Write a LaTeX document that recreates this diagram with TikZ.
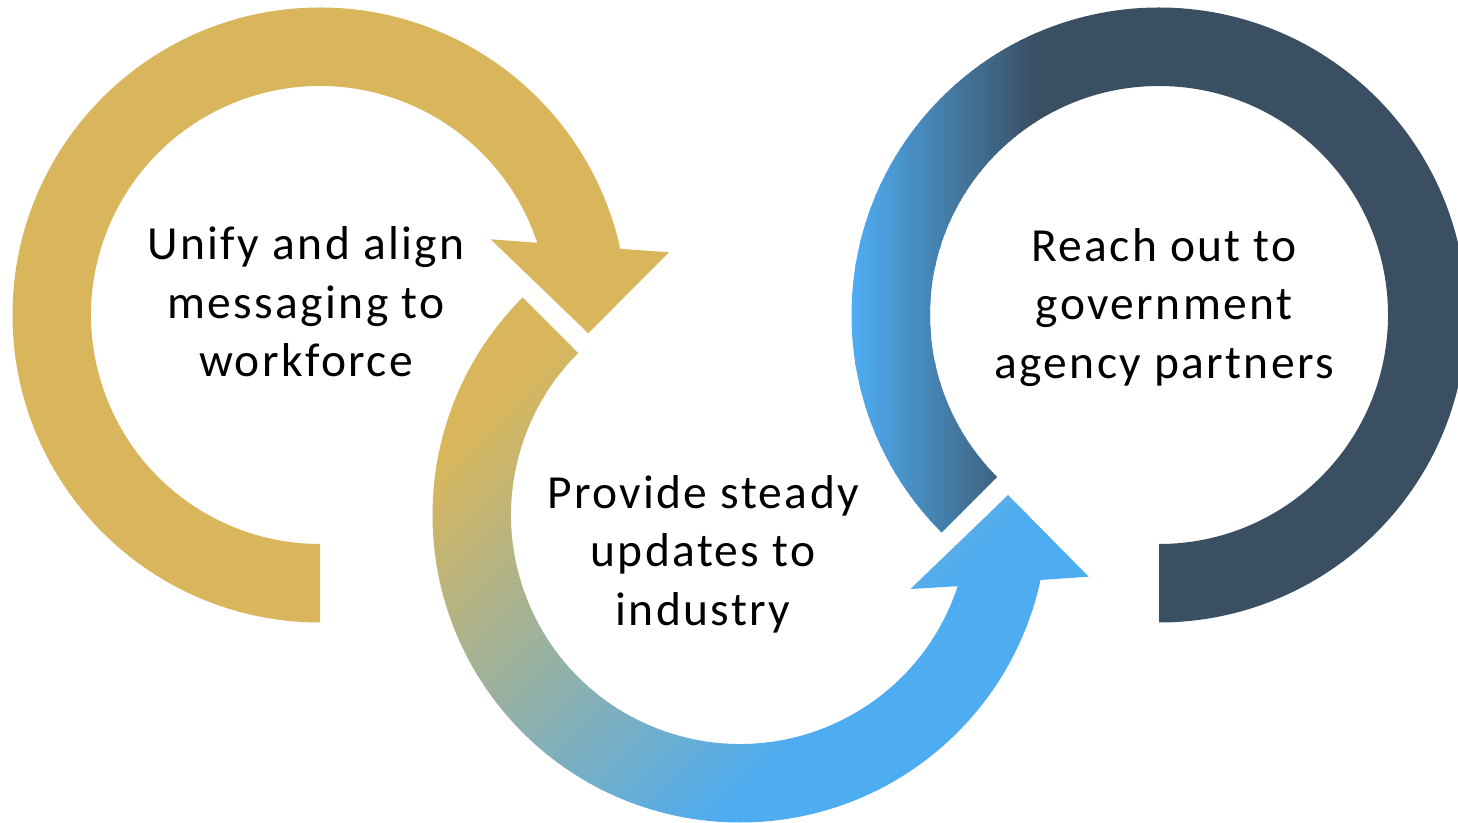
\documentclass[tikz,border=0pt]{standalone}
\usepackage{fontspec}
\setmainfont{Carlito}[LetterSpace=5]
\usetikzlibrary{calc}
\definecolor{goldC}{HTML}{D9B65C}
\definecolor{blueC}{HTML}{4EACF1}
\definecolor{navyC}{HTML}{3B4F63}
\begin{document}
\begin{tikzpicture}[x=1pt,y=1pt,
  lbl/.style={font=\fontsize{47.5}{58.7}\selectfont, align=center, inner sep=0pt, anchor=base, text=black}]
\useasboundingbox (0,0) rectangle (1458,822);
\def\ro{307.5}
\def\ri{229}
\coordinate (c1) at (320,507);
\coordinate (c2) at (740,307);
\coordinate (c3) at (1159,507);

% arc 1 (gold)
\fill[goldC] ($(c1)+(270:\ro)$) arc[start angle=270, end angle=12.43, radius=\ro]
  -- (669,569.7) -- (588.3,488.7) -- (490.7,582.7)
  -- ($(c1)+(18.37:\ri)$) arc[start angle=18.37, end angle=270, radius=\ri] -- cycle;

% arc 2 (gold -> blue)
\begin{scope}
\clip ($(c2)+(135:\ro)$) arc[start angle=135, end angle=347.8, radius=\ro]
  -- (1088.7,245.3) -- (1008,327) -- (910.7,233)
  -- ($(c2)+(341.9:\ri)$) arc[start angle=341.9, end angle=135, radius=\ri] -- cycle;
\fill[goldC] (-872,-50) -- (78,900) -- (979,900) -- (29,-50) -- cycle;
\fill[blueC] (668,-50) -- (1618,900) -- (2700,900) -- (2700,-50) -- cycle;
\foreach \i in {0,...,63} {
  \pgfmathsetmacro\sa{900+10*\i}
  \pgfmathsetmacro\sb{\sa+11}
  \pgfmathsetmacro\p{100*(\i+0.5)/64}
  \fill[blueC!\p!goldC] ({\sa-872},-50) -- ({\sa+78},900) -- ({\sb+78},900) -- ({\sb-872},-50) -- cycle;
}
\end{scope}

% arc 3 (blue -> navy)
\begin{scope}
\clip ($(c3)+(225:\ro)$) arc[start angle=225, end angle=-90, radius=\ro]
  -- ($(c3)+(-90:\ri)$) arc[start angle=-90, end angle=225, radius=\ri] -- cycle;
\fill[blueC] (800,-10) rectangle (856,830);
\fill[navyC] (1034,-10) rectangle (1500,830);
\foreach \i in {0,...,35} {
  \pgfmathsetmacro\xa{855+5*\i}
  \pgfmathsetmacro\xb{\xa+6}
  \pgfmathsetmacro\p{100*(\i+0.5)/36}
  \fill[navyC!\p!blueC] (\xa,-10) rectangle (\xb,830);
}
\end{scope}

\node[lbl] (t1) at (306,445) {Unify and align\\messaging to\\workforce};
\node[lbl] (t2) at (703,196.5) {Provide steady\\updates to\\industry};
\node[lbl] (t3) at (1164,443.5) {Reach out to\\government\\agency partners};
\end{tikzpicture}
\end{document}
